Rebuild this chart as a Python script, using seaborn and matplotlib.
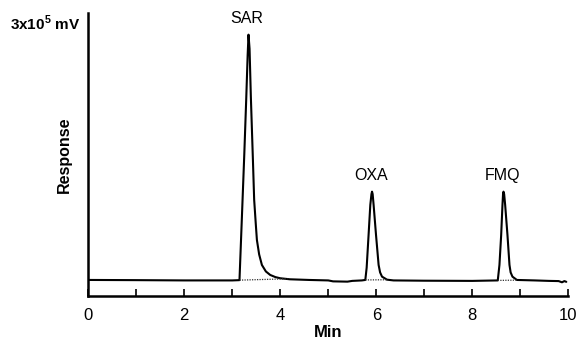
import numpy as np
import pandas as pd
import matplotlib
matplotlib.use('Agg')
import matplotlib.pyplot as plt
import seaborn as sns

# Chromatogram trace (time in min, response in 1e5 mV)
time = [0.00, 1.00, 2.00, 3.00, 3.15,
        3.20, 3.25, 3.29, 3.32, 3.338, 3.36, 3.387, 3.43, 3.456, 3.49, 3.513,
        3.56, 3.617, 3.70, 3.79, 3.90, 4.00, 4.20, 4.60, 5.00, 5.10, 5.40,
        5.50, 5.70, 5.772,
        5.80, 5.84, 5.876, 5.90, 5.912, 5.925, 5.945, 5.995, 6.049, 6.08,
        6.12, 6.224, 6.36, 7.00, 8.00, 8.532,
        8.567, 8.603, 8.63, 8.642, 8.651, 8.665, 8.686, 8.734, 8.776, 8.80,
        8.838, 8.93, 9.30, 9.60, 9.80, 9.87, 9.92, 9.96]
response = [0.170, 0.168, 0.165, 0.165, 0.168,
            0.83, 1.50, 2.08, 2.55, 2.77, 2.62, 2.11, 1.44, 1.02, 0.76, 0.594,
            0.44, 0.329, 0.26, 0.223, 0.200, 0.188, 0.177, 0.170, 0.165, 0.155, 0.152,
            0.160, 0.165, 0.170,
            0.30, 0.647, 0.965, 1.08, 1.106, 1.08, 0.965, 0.647, 0.329, 0.25,
            0.205, 0.173, 0.165, 0.162, 0.160, 0.165,
            0.329, 0.647, 0.965, 1.08, 1.106, 1.08, 0.965, 0.647, 0.329, 0.25,
            0.205, 0.170, 0.165, 0.160, 0.158, 0.145, 0.158, 0.150]

# Peaks
peak_names = ['SAR', 'OXA', 'FMQ']
peak_time = [3.338, 5.912, 8.651]
peak_height = [2.77, 1.106, 1.106]

# Dotted baselines drawn under the peaks
base_start = [3.15, 5.772, 8.532]
base_end = [4.15, 6.22, 8.93]
base_y0 = [0.168, 0.170, 0.165]
base_y1 = [0.182, 0.172, 0.168]

xticks = [0, 1, 2, 3, 4, 5, 6, 7, 8, 9, 10]
xticklabels = ['0', '', '2', '', '4', '', '6', '', '8', '', '10']

sns.set_style('ticks')
plt.rcParams['font.family'] = ['Liberation Sans', 'DejaVu Sans']
plt.rcParams['mathtext.fontset'] = 'custom'
plt.rcParams['mathtext.rm'] = 'Liberation Sans'
plt.rcParams['mathtext.bf'] = 'Liberation Sans:bold'
for key in ['text.color', 'axes.labelcolor', 'xtick.color', 'ytick.color',
            'axes.edgecolor']:
    plt.rcParams[key] = 'black'

df = pd.DataFrame({'time': time, 'response': response})

fig = plt.figure(figsize=(5.81, 3.41), dpi=100)
ax = fig.add_axes([0.152, 0.132, 0.826, 0.830])

sns.lineplot(data=df, x='time', y='response', ax=ax, color='black',
             linewidth=1.5, estimator=None, sort=False)

for xs, xe, ys, ye in zip(base_start, base_end, base_y0, base_y1):
    ax.plot([xs, xe], [ys, ye], color='#333333', linestyle=(0, (1, 1)),
            linewidth=0.9)

for name, px, ph in zip(peak_names, peak_time, peak_height):
    ax.annotate(name, xy=(px, ph), xytext=(-1, 6), textcoords='offset points',
                ha='center', va='bottom', fontsize=11.5)

ax.set_xlim(0, 10)
ax.set_ylim(0, 3)
ax.set_xticks(xticks)
ax.set_xticklabels(xticklabels, fontsize=12)
ax.set_yticks([])
ax.tick_params(axis='x', direction='in', length=5, width=1.2, pad=9)
ax.set_xlabel('Min', fontsize=12, fontweight='bold', labelpad=1)
ax.set_ylabel('Response', fontsize=11.5, fontweight='bold', labelpad=12)

sns.despine(ax=ax)
for s in ['left', 'bottom']:
    ax.spines[s].set_linewidth(1.8)

fig.text(0.138, 0.912, r'3x10$^{\mathbf{5}}$ mV', ha='right', va='baseline',
         fontsize=11, fontweight='bold')

fig.savefig('out.png', dpi=100)
